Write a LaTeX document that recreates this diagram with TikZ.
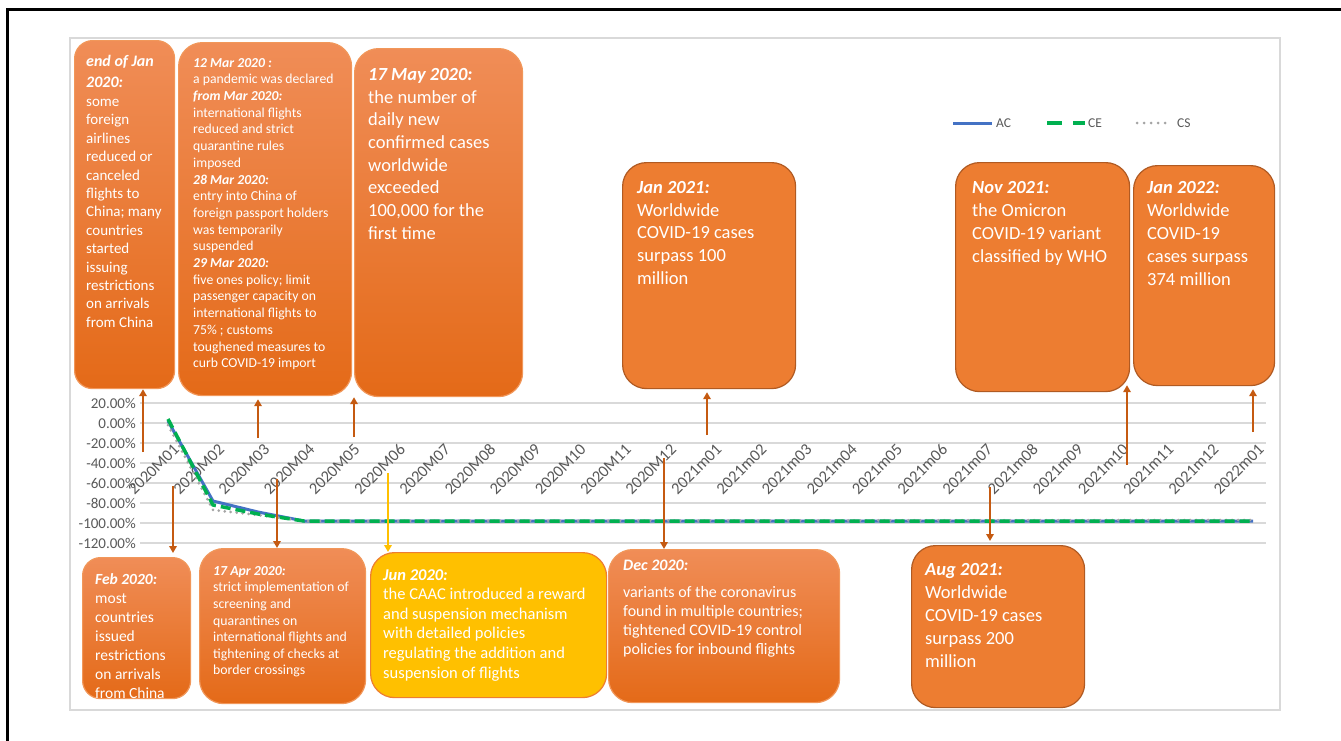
\documentclass[tikz,border=0pt]{standalone}
\usepackage{fontspec}
\setmainfont{Carlito}
\usetikzlibrary{arrows.meta}
\definecolor{evorange}{HTML}{ED7D31}
\definecolor{evtop}{HTML}{F08D57}
\definecolor{evbottom}{HTML}{E46A18}
\definecolor{evedge}{HTML}{B05A22}
\definecolor{evyellow}{HTML}{FFC000}
\definecolor{evbrown}{HTML}{C55A11}
\definecolor{acblue}{HTML}{4472C4}
\definecolor{cegreen}{HTML}{00B050}
\definecolor{csgray}{HTML}{A5A5A5}
\definecolor{gridgray}{HTML}{D9D9D9}
\definecolor{axisgray}{HTML}{595959}
\newcommand\evdate[1]{\textbf{\textit{#1}}}
\newcommand\evsize[2]{\fontsize{#1}{#2}\selectfont}

\begin{document}
\begin{tikzpicture}[x=1pt, y=-1pt,
	box/.style={anchor=north west, inner sep=0pt, rounded corners=24pt, line width=1.2pt},
	shadebox/.style={box, top color=evtop, bottom color=evbottom, draw=evorange!80!white},
	flatbox/.style={box, fill=evorange, draw=evedge},
	yellowbox/.style={box, fill=evyellow, draw=evorange},
	evtext/.style={anchor=north west, inner sep=0pt, align=left, text=white},
	evarrow/.style={-{Triangle[length=7pt,width=7.5pt]}, line width=2.8pt, evbrown},
	ticklabel/.style={text=axisgray, inner sep=0pt, font=\evsize{15}{18}},
	legendlabel/.style={text=axisgray, inner sep=0pt, anchor=west, font=\evsize{13.5}{16}}
]

\useasboundingbox (0,0) rectangle (1341,740);
\draw[line width=3pt] (7,745) -- (7,9) -- (1345,9);
\draw[gridgray, line width=2pt] (70,38) rectangle (1280,710);

% grid and axis
\foreach \v [count=\i] in {20,0,-20,-40,-60,-80,-100,-120} {
	\draw[gridgray, line width=1.3pt] (140,{423-(\v)}) -- (1266,{423-(\v)});
	\node[ticklabel, anchor=east] (yl\i) at (136,{423-(\v)}) {\v.00\%};
}
\foreach \lab [count=\i from 0] in {2020M01,2020M02,2020M03,2020M04,2020M05,2020M06,
	2020M07,2020M08,2020M09,2020M10,2020M11,2020M12,2021m01,2021m02,2021m03,2021m04,
	2021m05,2021m06,2021m07,2021m08,2021m09,2021m10,2021m11,2021m12,2022m01}
\node[ticklabel, font=\evsize{16.5}{18}, rotate=45, anchor=east] (xl\i) at ({176.4+45.2*\i},446.4) {\lab};

% series
\draw[acblue, line width=3pt, line join=round] (168,421) -- (213,501) -- (258,512) -- (304,521) -- (1253,521);
\draw[csgray, line width=3pt, line cap=round, dash pattern=on 0pt off 6pt] (168,425) -- (213,510) -- (258,515) -- (304,521) -- (1253,520);
\draw[cegreen, line width=3.5pt, dash pattern=on 10pt off 5pt] (168,419) -- (213,505) -- (258,514) -- (304,521) -- (1253,521);

% legend
\node[legendlabel] (lgAC) at (996,123) {AC};
\node[legendlabel] (lgCE) at (1088,123) {CE};
\node[legendlabel] (lgCS) at (1177,123) {CS};
\coordinate (lgACs) at (953,123);
\coordinate (lgCEs) at (1047,123);
\coordinate (lgCSs) at (1137,123);
\draw[acblue, line width=3pt] (lgACs) -- ([xshift=-4pt]lgAC.west);
\draw[cegreen, line width=3.5pt, dash pattern=on 15pt off 11pt] (lgCEs) -- ([xshift=-3pt]lgCE.west);
\draw[csgray, line width=3pt, line cap=round, dash pattern=on 0pt off 7pt] (lgCSs) -- ([xshift=-5pt]lgCS.west);

% boxes above
\node[shadebox, rounded corners=18pt, minimum width=100pt, minimum height=348pt] (bEndJan) at (74,40) {};
\node[shadebox, minimum width=173pt, minimum height=353pt] (b12Mar) at (178,42) {};
\node[shadebox, minimum width=168pt, minimum height=348pt] (b17May) at (354,48) {};
\node[flatbox, minimum width=173pt, minimum height=226pt] (bJan21) at (622,162) {};
\node[flatbox, minimum width=174pt, minimum height=229pt] (bNov21) at (955,162) {};
\node[flatbox, minimum width=141pt, minimum height=220pt] (bJan22) at (1133,165) {};

% boxes below
\node[shadebox, rounded corners=18pt, minimum width=108pt, minimum height=141pt] (bFeb20) at (82,557) {};
\node[shadebox, minimum width=166pt, minimum height=155pt] (b17Apr) at (199,548) {};
\node[yellowbox, minimum width=236pt, minimum height=145pt] (bJun20) at (370,552) {};
\node[shadebox, minimum width=231pt, minimum height=153pt] (bDec20) at (608,549) {};
\node[flatbox, minimum width=173pt, minimum height=162pt] (bAug21) at (911,545) {};

% texts
\node[evtext, font=\evsize{15}{18.4}] (tEndJan) at ([shift={(12,15)}]bEndJan.north west)
	{\evdate{\evsize{16}{18.4}end of Jan}\\[2.6pt] \evdate{\evsize{16}{18.4}2020:}\\[0.6pt] some\\ foreign\\ airlines\\ reduced or\\
	canceled\\ flights to\\ China; many\\ countries\\ started\\ issuing\\ restrictions\\ on arrivals\\ from China};
\node[evtext, font=\evsize{13.7}{16.7}] (t12Mar) at ([shift={(15,16)}]b12Mar.north west)
	{\evdate{12 Mar 2020 :}\\ a pandemic was declared\\ \evdate{from Mar 2020:}\\ international flights\\
	reduced and strict\\ quarantine rules\\ imposed\\ \evdate{28 Mar 2020:}\\ entry into China of\\
	foreign passport holders\\ was temporarily\\ suspended\\ \evdate{29 Mar 2020:}\\
	five ones policy; limit\\ passenger capacity on\\ international flights to\\ 75\% ; customs\\
	toughened measures to\\ curb COVID-19 import};
\node[evtext, font=\evsize{18.5}{22.7}] (t17May) at ([shift={(14,20)}]b17May.north west)
	{\evdate{17 May 2020:}\\ the number of\\ daily new\\ confirmed cases\\ worldwide\\ exceeded\\
	100,000 for the\\ first time};
\node[evtext, font=\evsize{18.5}{22.7}] (tJan21) at ([shift={(15,19)}]bJan21.north west)
	{\evdate{Jan 2021:}\\ Worldwide\\ COVID-19 cases\\ surpass 100\\ million};
\node[evtext, font=\evsize{18.5}{23}] (tNov21) at ([shift={(17,19)}]bNov21.north west)
	{\evdate{Nov 2021:}\\ the Omicron\\ COVID-19 variant\\ classified by WHO};
\node[evtext, font=\evsize{18.5}{23}] (tJan22) at ([shift={(14,16)}]bJan22.north west)
	{\evdate{Jan 2022:}\\ Worldwide\\ COVID-19\\ cases surpass\\ 374 million};
\node[evtext, font=\evsize{15.5}{19}] (tFeb20) at ([shift={(13,16)}]bFeb20.north west)
	{\evdate{Feb 2020:}\\ most\\ countries\\ issued\\ restrictions\\ on arrivals\\ from China};
\node[evtext, font=\evsize{13.8}{16.6}] (t17Apr) at ([shift={(14,18)}]b17Apr.north west)
	{\evdate{17 Apr 2020:}\\ strict implementation of\\ screening and\\ quarantines on\\
	international flights and\\ tightening of checks at\\ border crossings};
\node[evtext, font=\evsize{16.5}{19.6}] (tJun20) at ([shift={(13,17)}]bJun20.north west)
	{\evdate{Jun 2020:}\\ the CAAC introduced a reward\\ and suspension mechanism\\ with detailed policies\\
	regulating the addition and\\ suspension of flights};
\node[evtext, font=\evsize{16}{19}] (tDec20) at ([shift={(15,11)}]bDec20.north west)
	{\evdate{Dec 2020:}\\[8pt] variants of the coronavirus\\ found in multiple countries;\\
	tightened COVID-19 control\\ policies for inbound flights};
\node[evtext, font=\evsize{18.5}{23}] (tAug21) at ([shift={(14,18)}]bAug21.north west)
	{\evdate{Aug 2021:}\\ Worldwide\\ COVID-19 cases\\ surpass 200\\ million};

% arrows
\coordinate (sEndJan) at (143,452);
\coordinate (s12Mar) at (258,438);
\coordinate (s17May) at (354,437);
\coordinate (sJan21) at (707,435);
\coordinate (sNov21) at (1127,465);
\coordinate (sJan22) at (1253,432);
\coordinate (sFeb20) at (173,486);
\coordinate (s17Apr) at (277,479);
\coordinate (sJun20) at (388,473);
\coordinate (sDec20) at (664,458);
\coordinate (sAug21) at (990,487);
\draw[evarrow] (sEndJan) -- (sEndJan |- bEndJan.south);
\draw[evarrow] (s12Mar) -- ([yshift=-3pt]s12Mar |- b12Mar.south);
\draw[evarrow] (s17May) -- (s17May |- b17May.south);
\draw[evarrow] (sJan21) -- ([yshift=-3pt]sJan21 |- bJan21.south);
\draw[evarrow] (sNov21) -- ([yshift=7pt]sNov21 |- bNov21.south);
\draw[evarrow] (sJan22) -- ([yshift=-3pt]sJan22 |- bJan22.south);
\draw[evarrow] (sFeb20) -- ([yshift=4pt]sFeb20 |- bFeb20.north);
\draw[evarrow] (s17Apr) -- (s17Apr |- b17Apr.north);
\draw[evarrow, evyellow] (sJun20) -- (sJun20 |- bJun20.north);
\draw[evarrow] (sDec20) -- (sDec20 |- bDec20.north);
\draw[evarrow] (sAug21) -- ([yshift=4pt]sAug21 |- bAug21.north);

\end{tikzpicture}
\end{document}
